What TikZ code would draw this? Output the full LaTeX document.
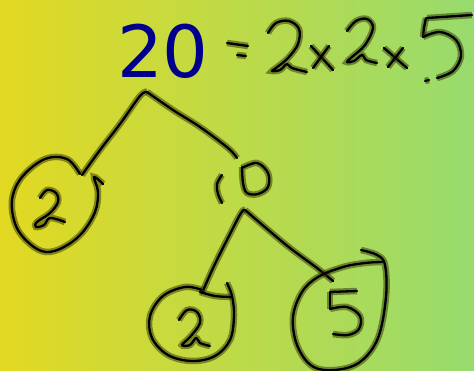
\documentclass[tikz,border=0pt]{standalone}
\usepackage{fontspec}
\newfontfamily\dvs{DejaVu Sans}
\definecolor{bgL}{RGB}{227,217,34}
\definecolor{bgR}{RGB}{151,219,110}
\definecolor{navyb}{RGB}{0,0,140}
\definecolor{halo}{RGB}{45,50,0}
\tikzset{
  hand/.style={draw=black, line width=2.3pt, line cap=round, line join=round,
    preaction={draw=halo, line width=6.5pt, draw opacity=0.5}},
  sm/.style={smooth, tension=0.6}
}
\begin{document}
\begin{tikzpicture}[x=1pt,y=-1pt]
\useasboundingbox (0,0) rectangle (474,371);
\shade[left color=bgL, right color=bgR] (0,0) rectangle (474,371);
% title number
\node[anchor=base, inner sep=0, text=navyb, font=\dvs\fontsize{72}{72}\selectfont] (n20) at (163,78) {20};
% "= 2 x 2 x 5"
\draw[hand] (227,43) -- (248,46);
\draw[hand] (237,55) -- (246,56);
\draw[hand] plot[sm] coordinates {(268,33) (276,23) (289,21) (299,29) (298,44) (288,58) (276,68) (272,71) (280,70) (287,64) (292,68) (307,72)};
\draw[hand] (311,46) -- (333,70);
\draw[hand] (329,46) -- (313,68);
\draw[hand] plot[sm] coordinates {(347,31) (356,21) (367,19) (373,28) (365,45) (352,57) (347,62) (354,61) (362,55) (366,60) (377,63)};
\draw[hand] (384,48) -- (407,68);
\draw[hand] (403,48) -- (388,67);
\draw[hand] (472,15) -- (427,18);
\draw[hand] plot[sm] coordinates {(426,18) (424,28) (423,37)};
\draw[hand] plot[sm] coordinates {(423,37) (440,32) (456,40) (461,56) (453,71) (437,78)};
\draw[hand] (425,81) -- (429,80);
% tree from 20
\coordinate (apex) at (147,92);
\coordinate (l2top) at (82,175);
\draw[hand] plot[sm] coordinates {(l2top) (100,150) (120,124) (140,96) (apex)};
\draw[hand] plot[sm] coordinates {(apex) (173,110) (200,127) (228,148) (237,158)};
% left circled 2
\draw[hand] plot[sm] coordinates {(80,174) (67,159) (45,159) (22,177) (12,200) (16,226) (30,244) (46,252) (64,247) (82,233) (95,212) (98,192) (94,177) (103,184)};
\draw[hand] plot[sm] coordinates {(40,198) (47,190) (56,193) (58,202) (50,213) (37,222) (36,227) (44,225) (50,218) (65,222)};
% 10
\draw[hand] plot[sm] coordinates {(222,175) (217,184) (218,194) (222,203)};
\draw[hand] plot[sm] coordinates {(242,168) (257,163) (268,173) (268,187) (258,194) (247,193) (243,183) (242,167)};
% tree from 10
\coordinate (apex2) at (245,210);
\draw[hand] plot[sm] coordinates {(202,293) (214,266) (230,234) (241,213) (apex2)};
\draw[hand] plot[sm] coordinates {(apex2) (266,228) (290,248) (317,268) (333,281)};
% bottom-left circled 2
\draw[hand] plot[sm] coordinates {(202,290) (185,287) (163,296) (150,316) (152,338) (168,355) (192,361) (215,356) (230,340) (234,316) (232,296) (227,283)};
\draw[hand] plot[sm] coordinates {(200,292) (215,296) (231,297)};
\draw[hand] plot[sm] coordinates {(179,320) (187,310) (197,312) (200,323) (190,337) (182,345) (190,345) (196,338) (200,343) (210,346)};
% right circled 5
\draw[hand] plot[sm] coordinates {(361,250) (377,255) (385,265) (386,297) (378,338) (360,362) (335,370) (312,366) (297,345) (293,317) (302,292) (318,277) (343,267) (365,263) (382,262)};
\draw[hand] (357,291) -- (330,292);
\draw[hand] (330,292) -- (330,309);
\draw[hand] plot[sm] coordinates {(330,309) (347,307) (360,316) (359,329) (348,335) (333,334)};
\end{tikzpicture}
\end{document}
